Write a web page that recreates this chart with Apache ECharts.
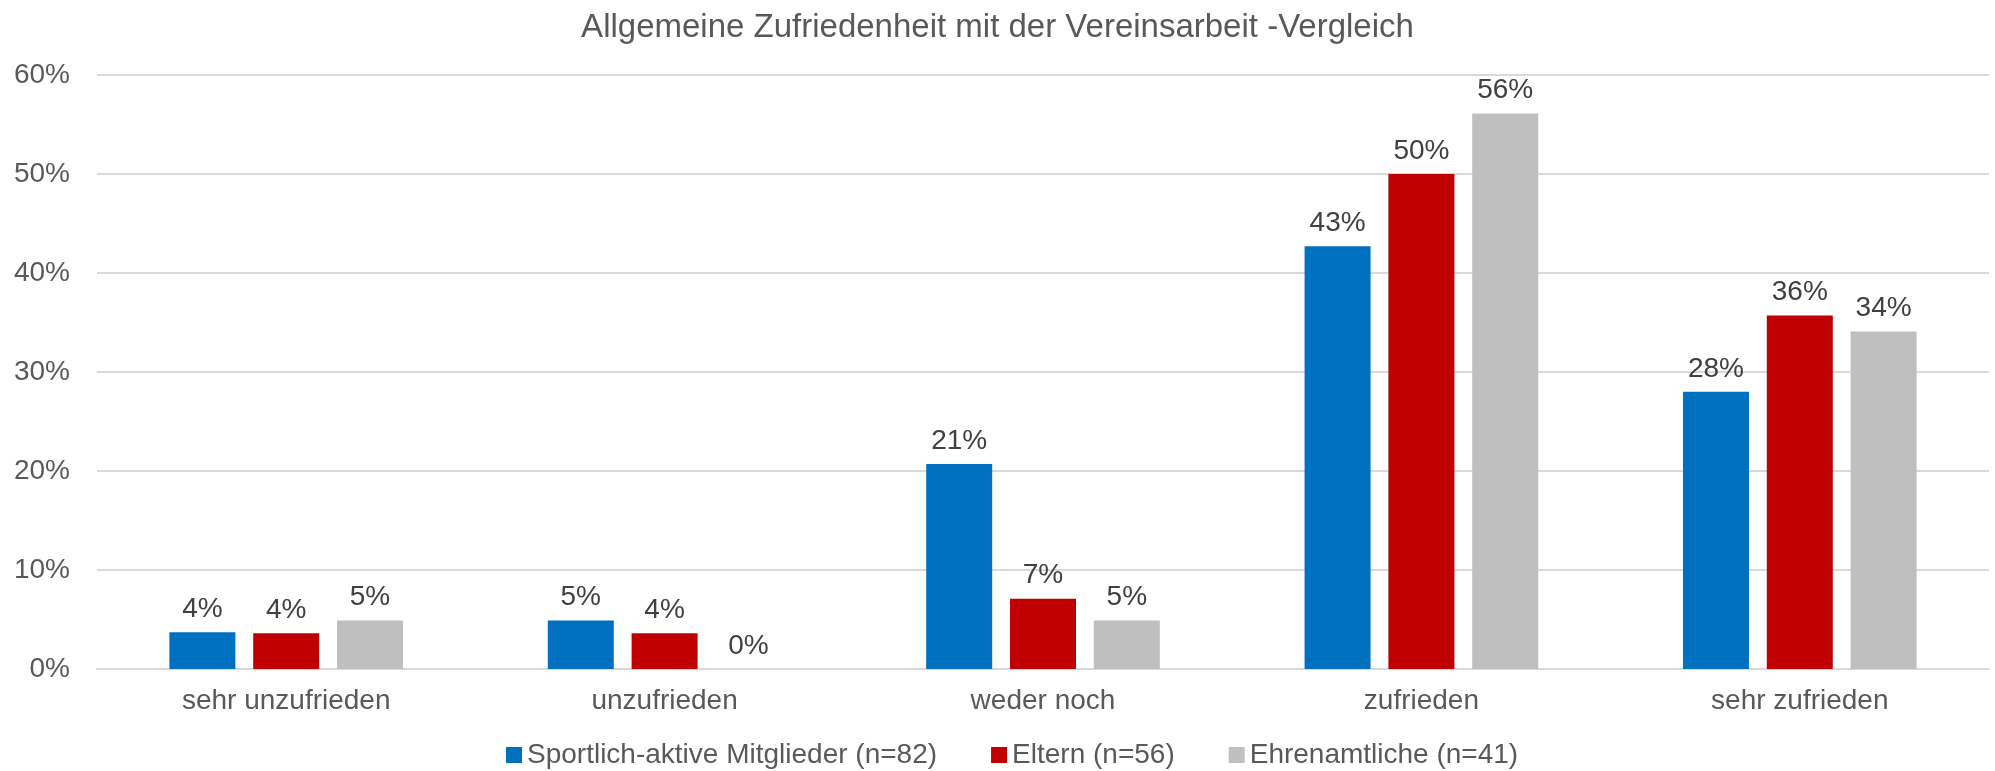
<!DOCTYPE html>
<html>
<head>
<meta charset="utf-8">
<script src="https://cdn.jsdelivr.net/npm/echarts@6/dist/echarts.min.js"></script>
<style>
  html, body { margin: 0; padding: 0; background: #fff; }
  #chart { width: 1995px; height: 771px; }
</style>
</head>
<body>
<div id="chart"></div>
<script>
// Kategorien und Werte (Anteile in %)
const categories = ['sehr unzufrieden', 'unzufrieden', 'weder noch', 'zufrieden', 'sehr zufrieden'];
const seriesNames = ['Sportlich-aktive Mitglieder (n=82)', 'Eltern (n=56)', 'Ehrenamtliche (n=41)'];
const mitglieder = [3.7, 4.9, 20.7, 42.7, 28.0];
const eltern = [3.6, 3.6, 7.1, 50.0, 35.7];
const ehrenamt = [4.9, 0, 4.9, 56.1, 34.1];
const yTicks = [0, 10, 20, 30, 40, 50, 60];

const colors = ['#0070C0', '#C00000', '#BFBFBF'];
const font = 'Liberation Sans, Arial, sans-serif';

const chart = echarts.init(document.getElementById('chart'));

const makeSeries = (name, data, color) => ({
    name: name,
    type: 'bar',
    data: data,
    barWidth: 66,
    barGap: '27%',
    itemStyle: { color: color },
    label: {
        show: true,
        position: 'top',
        distance: 9,
        fontFamily: font,
        fontSize: 28,
        color: '#404040',
        formatter: p => Math.round(p.value) + '%'
    }
});

const option = {
    animation: false,
    backgroundColor: '#ffffff',
    title: {
        text: 'Allgemeine Zufriedenheit mit der Vereinsarbeit -Vergleich',
        left: 'center',
        top: 6,
        textStyle: { fontFamily: font, fontSize: 33, fontWeight: 'normal', color: '#595959' }
    },
    legend: {
        data: seriesNames,
        top: 736,
        left: 501,
        icon: 'rect',
        itemWidth: 16,
        itemHeight: 16,
        itemGap: 54,
        textStyle: { fontFamily: font, fontSize: 28, color: '#595959' }
    },
    grid: { left: 97, right: 6, top: 75, bottom: 102 },
    xAxis: {
        type: 'category',
        data: categories,
        axisTick: { show: false },
        axisLine: { lineStyle: { color: '#D9D9D9', width: 2 } },
        axisLabel: { fontFamily: font, fontSize: 28, color: '#595959', margin: 18 }
    },
    yAxis: {
        type: 'value',
        min: yTicks[0],
        max: yTicks[yTicks.length - 1],
        interval: 10,
        axisLine: { show: false },
        axisTick: { show: false },
        splitLine: { lineStyle: { color: '#D9D9D9', width: 2 } },
        axisLabel: { fontFamily: font, fontSize: 28, color: '#595959', margin: 27, formatter: '{value}%' }
    },
    series: [
        makeSeries(seriesNames[0], mitglieder, colors[0]),
        makeSeries(seriesNames[1], eltern, colors[1]),
        makeSeries(seriesNames[2], ehrenamt, colors[2])
    ]
};

chart.setOption(option);
</script>
</body>
</html>
